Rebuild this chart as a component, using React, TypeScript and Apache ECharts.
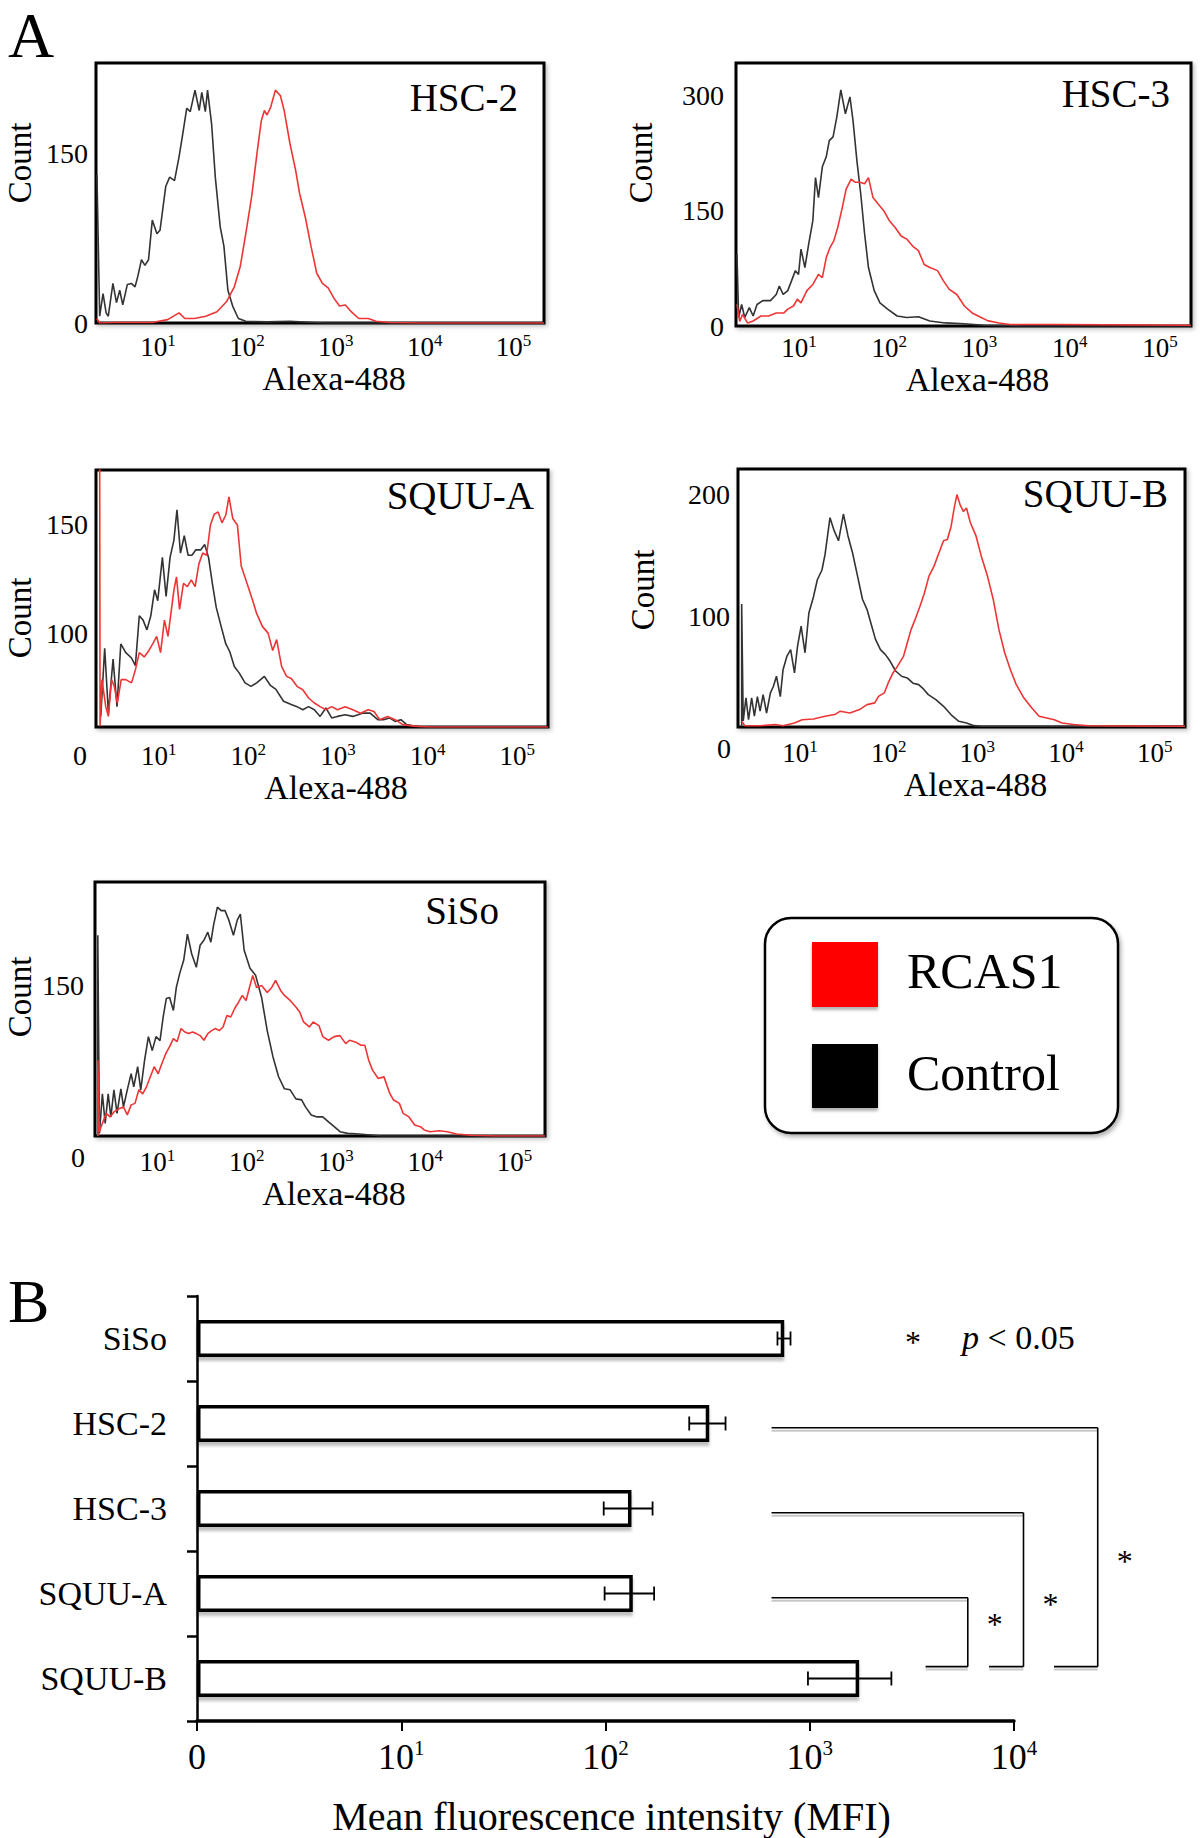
import React, { useEffect, useRef } from 'react';
import * as echarts from 'echarts';

const FONT = '"Liberation Serif", "Times New Roman", Times, serif';
const CONTROL_COLOR = '#333333';
const RCAS_COLOR = '#ee3535';

// ---------- Panel A data: flow cytometry histograms [Alexa-488 intensity, count] ----------
const hsc2Control: number[][] = [[2.05,131],[2.2,6],[2.4,26],[2.6,9],[2.75,6],[3.1,35],[3.4,18],[3.7,29],[4.0,16],[4.5,34],[5.0,35],[5.5,32],[5.9,41],[6.5,56],[7.1,51],[7.8,56],[8.6,91],[9.7,79],[10.5,82],[12.2,121],[13.5,129],[15.3,126],[17.2,147],[19,168],[21,190],[23,187],[26,206],[29,188],[31,204],[34,187],[36,206],[40,176],[44,129],[50,85],[55,68],[61,29],[69,15],[80,4],[97,1.5],[168,1],[304,1.5],[740,0],[220000,0]];
const hsc2Rcas1: number[][] = [[2.04,4],[2.2,0],[3.2,0.5],[8.6,0.5],[12.8,3],[17.2,9],[20,4],[25.6,4],[34.4,6],[46,10],[59,19],[72,32],[84,50],[97,79],[113,112],[131,153],[145,179],[157,188],[168,184],[185,191],[209,206],[238,201],[262,188],[304,159],[353,135],[390,115],[452,94],[525,68],[610,44],[706,35],[819,31],[950,22],[1100,15],[1280,16],[1490,10],[1810,4],[2320,4],[2830,1.5],[4000,0.5],[8830,0],[220000,0]];

const hsc3Control: number[][] = [[2.05,93],[2.14,11],[2.31,28],[2.5,11],[2.81,24],[3.1,13],[3.42,28],[3.96,33],[4.82,33],[5.58,41],[6.04,52],[6.66,41],[7.49,46],[8.26,59],[9.1,72],[9.86,67],[10.5,100],[11.6,76],[12.8,107],[14.2,137],[15.2,193],[16.4,167],[18.1,207],[20,220],[21.6,241],[23.8,246],[26.2,272],[29,307],[32.6,276],[36.6,298],[39.6,267],[43.7,215],[48.2,172],[53.2,120],[58.7,76],[68,46],[78.7,30],[95.7,22],[122,13],[156,11],[210,12],[281,6.5],[416,4],[679,3],[1110,1],[2950,0],[220000,0]];
const hsc3Rcas1: number[][] = [[2.05,28],[2.2,6],[2.36,15],[2.68,4],[3.1,6.5],[3.78,13],[4.59,13],[5.58,17],[6.79,17],[7.49,22],[8.67,26],[9.57,35],[10.5,30],[12.2,46],[14.2,54],[16.4,67],[18.1,63],[20,89],[22,102],[24.3,111],[26.8,128],[30.1,154],[33.2,178],[37.8,191],[41.6,187],[47.2,187],[53.2,185],[58.7,193],[65.9,167],[74.8,159],[86.7,150],[100,137],[116,128],[135,117],[156,113],[181,104],[210,98],[243,80],[281,76],[342,72],[396,59],[459,48],[559,41],[679,26],[826,17],[1004,12],[1222,7],[1640,4],[2200,2],[7870,2],[220000,1]];

const squuAControl: number[][] = [[2.26,61.5],[2.5,93],[2.75,63],[3.1,88],[3.43,66],[3.78,95],[4.3,91],[4.98,88.5],[5.5,85],[6.08,108],[6.7,106],[7.4,101.5],[8.17,108],[9.0,120],[9.77,115],[11,135],[12.1,117],[13.4,135],[14.8,143],[16,157],[17.5,137],[19.3,145],[21.3,136],[23.5,136],[26,138.5],[29.5,138.5],[32.6,141],[36,135],[39.7,123],[43.8,112],[49.8,103],[56.1,95],[62,91.5],[69.8,84.6],[79.3,81.5],[92,77],[107,75.4],[124,77],[151,80],[175,76],[203,74],[247,68.5],[301,67],[349,66],[405,64.6],[470,66],[545,64.6],[632,61.5],[733,65.4],[851,60.8],[986,61.5],[1202,62.3],[1466,61.5],[1874,63],[2284,63],[2780,60],[3225,60],[3741,60.8],[4341,59.2],[5038,60],[5839,57.7],[7117,57],[8674,56.6],[220000,56.6]];
const squuARcas1: number[][] = [[2.2,176],[2.22,57],[2.33,78.5],[2.57,66],[2.75,61.5],[2.98,78.5],[3.2,75.4],[3.46,67.7],[3.82,78.5],[4.3,78.5],[4.98,77],[5.5,83],[6.08,91],[6.9,89],[7.78,92],[8.58,95],[9.5,98.5],[10.5,91],[11.6,106],[12.7,98.5],[14.8,120],[15.8,126],[17.1,111],[18.9,123],[20.9,121.5],[23.1,124.6],[25.5,121.5],[28.1,132],[31,137],[34.2,136],[37.8,150],[41.7,155],[46,156],[50.8,151],[56.1,154.6],[60.8,163],[67,153],[75.5,150],[83.3,131],[96.6,123],[112,115],[124,109],[144,103],[166,100],[187,92],[207,97],[235,84.6],[267,80],[301,79],[349,75.4],[405,73.8],[470,70],[545,67.7],[632,66],[733,64.6],[851,66],[986,64.6],[1202,66],[1466,64.6],[1784,63],[2174,64.6],[2520,63.8],[2922,60],[3563,61.5],[4341,60],[5289,57.7],[7117,57],[10568,56.6],[220000,56.6]];

const squuBControl: number[][] = [[2.2,10],[2.2,110],[2.29,14],[2.46,33],[2.63,15],[2.85,33],[3.06,18],[3.31,34],[3.55,22],[3.84,35.6],[4.2,20.5],[4.64,37],[5.02,42.5],[5.43,50.7],[6.0,34],[6.44,56],[7.11,67],[7.85,72.6],[8.67,53.4],[9.38,75.3],[10.3,91.8],[11.4,70],[12.6,102.7],[14.2,116],[15.7,130],[17.7,138],[19.2,151],[21.8,181],[24.1,171],[27.2,162],[30.9,184],[34.8,166],[39.2,152],[44.6,133],[50.7,114],[57.1,105.5],[64.4,92],[71.1,81],[80.8,72.6],[92,68.5],[104,63],[120,55],[140,50.7],[162,49.3],[188,45],[218,43.8],[241,41],[280,35.6],[341,31.5],[416,26],[507,19],[619,13.7],[755,12.3],[920,10.1],[1122,9.6],[220000,9.6]];
const squuBRcas1: number[][] = [[2.2,13.7],[2.39,10],[3.55,10],[5.27,11],[6.44,10],[8.67,12.3],[10.6,15],[14.2,15.6],[19.2,17.8],[24.6,19.2],[28.5,22],[36.5,20.5],[46.9,23.3],[57.1,27.4],[69.7,28.8],[76.9,34.2],[89.3,37],[98.6,45],[112,53.4],[126,59],[147,67],[162,78],[179,89],[198,97],[225,108],[253,119],[285,133],[324,141],[369,152],[416,162],[459,163],[507,174],[549,189],[589,200],[637,192],[697,186],[755,189],[833,177],[967,166],[1122,148],[1302,133],[1511,114],[1753,89],[2036,70],[2363,56],[2742,44],[3343,33],[4077,25],[4973,17.8],[6067,16.4],[7400,15],[9024,12.3],[12140,11],[18060,10],[220000,9.6]];

const sisoControl: number[][] = [[2.15,0],[2.15,200],[2.24,2.6],[2.42,42],[2.6,12.6],[2.81,42],[3.01,19],[3.26,46],[3.53,22.5],[3.9,47],[4.17,29],[4.6,46],[5.08,62],[5.44,49],[6.01,69],[6.51,46],[7.19,75.5],[7.93,99],[8.75,85],[9.66,99],[10.7,95],[11.6,118.5],[12.6,137],[13.7,138],[15.1,125],[16.3,148],[17.8,162],[19.7,175],[21.7,201],[24.2,181.5],[27.3,168],[30.1,190],[33.2,195],[36.7,203],[39.7,193],[42.6,210],[47,228],[51.8,224.5],[57.2,224.5],[63.2,215],[71.1,200],[78.5,215],[85,221],[93.8,185],[109,167],[126,160],[147,138],[170,105],[197,79],[228,59],[265,47],[307,46],[356,37],[413,36],[456,29],[529,21],[614,19],[712,19],[826,14],[957,9.3],[1111,4.3],[1353,2.6],[1820,2],[2447,1],[3290,0],[220000,0]];
const sisoRcas1: number[][] = [[2.15,0],[2.15,75.5],[2.24,4.3],[2.42,12.6],[2.67,22.5],[2.95,19],[3.26,24],[3.78,27.5],[4.17,29],[4.6,21],[5.08,31],[5.61,32.5],[6.2,46],[6.84,42],[7.55,49],[8.34,59],[9.2,69],[10.2,62],[11.2,72],[12.4,82],[13.7,89],[15.1,97],[16.6,94],[18.4,107],[20.3,103.6],[22.4,102],[24.7,103.6],[27.3,102],[30.1,100],[33.2,95.4],[36.7,102],[40.5,105],[44.7,107],[49.3,105],[54.4,108.6],[60.1,120],[66.4,118.5],[73.3,127],[80.9,133],[89.3,140],[98.6,135],[109,150],[117,160],[129,148],[147,150],[170,143],[191,148],[211,155],[240,145],[265,140],[307,135],[356,128.5],[393,123.5],[434,113.6],[504,108.6],[556,113.6],[645,110],[712,99],[826,95.4],[957,99],[1111,100],[1288,92],[1422,95.4],[1649,93.7],[1911,90.4],[2110,90.4],[2329,75.5],[2572,65.6],[2980,57.3],[3456,58.9],[4010,42.4],[4428,35.8],[5139,32.5],[5673,22.5],[6582,19],[7627,11],[8842,9.3],[9765,6],[11330,4.3],[14490,5.3],[17660,4.3],[22590,2],[31960,0.7],[63830,0],[220000,0]];

// ---------- Panel B data: mean fluorescence intensity ----------
const cellLines = ['SiSo', 'HSC-2', 'HSC-3', 'SQUU-A', 'SQUU-B'];
const mfiMeans = [750, 322, 134, 136, 1745];
const mfiErrors = [55, 65, 36, 37, 765];
const significantPairs = [['HSC-2', 'SQUU-B'], ['HSC-3', 'SQUU-B'], ['SQUU-A', 'SQUU-B']];

// ---------- layout ----------
const panels = [
  { name: 'HSC-2', control: hsc2Control, rcas: hsc2Rcas1, left: 96, top: 63, width: 448, height: 260, yMin: 0, yMax: 230, yLabels: [0, 150], yMargin: 8, xMargin: 9, nameGap: 29, title: [518, 97], count: [20, 163], zero: null as null | number[] },
  { name: 'HSC-3', control: hsc3Control, rcas: hsc3Rcas1, left: 736, top: 63, width: 455, height: 263, yMin: 0, yMax: 342, yLabels: [0, 150, 300], yMargin: 12, xMargin: 7, nameGap: 25, title: [1170, 93], count: [641, 163], zero: null },
  { name: 'SQUU-A', control: squuAControl, rcas: squuARcas1, left: 96, top: 470, width: 452, height: 257, yMin: 56.6, yMax: 175.4, yLabels: [100, 150], yMargin: 8, xMargin: 14, nameGap: 36, title: [534, 495], count: [20, 618], zero: [80, 755] },
  { name: 'SQUU-B', control: squuBControl, rcas: squuBRcas1, left: 738, top: 469, width: 447, height: 258, yMin: 9, yMax: 221, yLabels: [100, 200], yMargin: 8, xMargin: 11, nameGap: 33, title: [1168, 493], count: [643, 590], zero: [724, 748] },
  { name: 'SiSo', control: sisoControl, rcas: sisoRcas1, left: 95, top: 882, width: 450, height: 254, yMin: 0, yMax: 253, yLabels: [150], yMargin: 11, xMargin: 11, nameGap: 25, title: [499, 910], count: [20, 997], zero: [78, 1157] },
];

const BAR_GRID = { left: 197, top: 1296, width: 817, height: 425 };
const BRACKET_LEFT = 650;
const BRACKET_RIGHT = [25700, 11130, 5940];
const BRACKET_FOOT = [15700, 7550, 3690];
const STAR_DY = [14, 14, -8];

function powLabel(value: number, zeroAtOne: boolean) {
  const l = Math.log10(value);
  const e = Math.round(l);
  if (Math.abs(l - e) > 1e-6) return '';
  if (e === 0) return zeroAtOne ? '{b|0}' : '';
  if (e < 0) return '';
  return '{b|10}{s|' + e + '}';
}

function buildOption(): any {
  const grids: any[] = [];
  const xAxes: any[] = [];
  const yAxes: any[] = [];
  const series: any[] = [];
  const graphic: any[] = [];

  panels.forEach((p, i) => {
    grids.push({
      left: p.left, top: p.top, width: p.width, height: p.height,
      show: true, borderColor: '#000', borderWidth: 3, backgroundColor: '#fff',
      shadowColor: 'rgba(0,0,0,0.25)', shadowBlur: 4, shadowOffsetX: 2, shadowOffsetY: 2,
    });
    xAxes.push({
      type: 'log', logBase: 10, gridIndex: i, min: 2, max: 220000,
      axisLine: { show: false }, axisTick: { show: false }, splitLine: { show: false },
      axisLabel: {
        margin: p.xMargin, color: '#000',
        formatter: (v: number) => powLabel(v, false),
        rich: {
          b: { fontSize: 27, fontFamily: FONT, color: '#000', lineHeight: 30 },
          s: { fontSize: 17, fontFamily: FONT, color: '#000', verticalAlign: 'top', lineHeight: 17 },
        },
      },
      name: 'Alexa-488', nameLocation: 'middle', nameGap: p.nameGap,
      nameTextStyle: { fontSize: 34, fontFamily: FONT, color: '#000', padding: [0, 0, 0, 28] },
    });
    yAxes.push({
      type: 'value', gridIndex: i, min: p.yMin, max: p.yMax,
      axisLine: { show: false }, axisTick: { show: false }, splitLine: { show: false },
      axisLabel: { customValues: p.yLabels, fontSize: 28, fontFamily: FONT, color: '#000', margin: p.yMargin },
    });
    series.push({
      type: 'line', name: 'Control', xAxisIndex: i, yAxisIndex: i, data: p.control,
      symbol: 'none', showSymbol: false, clip: true,
      lineStyle: { color: CONTROL_COLOR, width: 1.6 }, itemStyle: { color: CONTROL_COLOR }, z: 3,
    });
    series.push({
      type: 'line', name: 'RCAS1', xAxisIndex: i, yAxisIndex: i, data: p.rcas,
      symbol: 'none', showSymbol: false, clip: true,
      lineStyle: { color: RCAS_COLOR, width: 1.6 }, itemStyle: { color: RCAS_COLOR }, z: 4,
    });
    graphic.push({
      type: 'text', x: p.title[0], y: p.title[1],
      style: { text: p.name, fontSize: 39, fontFamily: FONT, fill: '#000', align: 'right', verticalAlign: 'middle' },
    });
    graphic.push({
      type: 'text', x: p.count[0], y: p.count[1], rotation: Math.PI / 2,
      style: { text: 'Count', fontSize: 33, fontFamily: FONT, fill: '#000', align: 'center', verticalAlign: 'middle' },
    });
    if (p.zero) {
      graphic.push({
        type: 'text', x: p.zero[0], y: p.zero[1],
        style: { text: '0', fontSize: 28, fontFamily: FONT, fill: '#000', align: 'center', verticalAlign: 'middle' },
      });
    }
  });

  // ----- Panel B -----
  const bi = panels.length;
  grids.push({ ...BAR_GRID, show: false });
  xAxes.push({
    type: 'log', logBase: 10, gridIndex: bi, min: 1, max: 10000,
    axisLine: { show: true, lineStyle: { color: '#000', width: 3.5 } },
    axisTick: { show: true, inside: false, length: 10, lineStyle: { color: '#000', width: 2 } },
    splitLine: { show: false },
    axisLabel: {
      margin: 16,
      formatter: (v: number) => powLabel(v, true),
      rich: {
        b: { fontSize: 36, fontFamily: FONT, color: '#000', lineHeight: 40 },
        s: { fontSize: 21, fontFamily: FONT, color: '#000', verticalAlign: 'top', lineHeight: 22 },
      },
    },
    name: 'Mean fluorescence intensity (MFI)', nameLocation: 'middle', nameGap: 75,
    nameTextStyle: { fontSize: 40, fontFamily: FONT, color: '#000', padding: [0, 0, 0, 12] },
  });
  yAxes.push({
    type: 'category', gridIndex: bi, data: cellLines, inverse: true,
    axisLine: { show: true, lineStyle: { color: '#000', width: 2.5 } },
    axisTick: { show: true, inside: false, length: 10, lineStyle: { color: '#000', width: 2.5 } },
    splitLine: { show: false },
    axisLabel: { fontSize: 34, fontFamily: FONT, color: '#000', margin: 30 },
  });
  series.push({
    type: 'bar', name: 'MFI', xAxisIndex: bi, yAxisIndex: bi, data: mfiMeans, barWidth: 37,
    itemStyle: {
      color: '#fff', borderColor: '#000', borderWidth: 3.5,
      shadowColor: 'rgba(0,0,0,0.25)', shadowBlur: 3, shadowOffsetY: 4,
    },
    z: 2,
  });
  series.push({
    type: 'custom', name: 'SD', xAxisIndex: bi, yAxisIndex: bi,
    data: cellLines.map((_, k) => [mfiMeans[k] - mfiErrors[k], mfiMeans[k] + mfiErrors[k], k]),
    encode: { x: [0, 1], y: 2 },
    renderItem: (params: any, api: any) => {
      const lo = api.coord([api.value(0), api.value(2)]);
      const hi = api.coord([api.value(1), api.value(2)]);
      const h = 7;
      const st = { stroke: '#000', lineWidth: 1.8 };
      return {
        type: 'group', children: [
          { type: 'line', shape: { x1: lo[0], y1: lo[1], x2: hi[0], y2: hi[1] }, style: st },
          { type: 'line', shape: { x1: lo[0], y1: lo[1] - h, x2: lo[0], y2: lo[1] + h }, style: st },
          { type: 'line', shape: { x1: hi[0], y1: hi[1] - h, x2: hi[0], y2: hi[1] + h }, style: st },
        ],
      };
    },
    z: 5,
  });
  series.push({
    type: 'custom', name: 'significance', xAxisIndex: bi, yAxisIndex: bi, clip: false,
    data: significantPairs.map((pr, k) => [BRACKET_LEFT, cellLines.indexOf(pr[0]), cellLines.indexOf(pr[1]), k]),
    encode: { x: 0, y: 1 },
    renderItem: (params: any, api: any) => {
      const from = api.value(1);
      const to = api.value(2);
      const level = api.value(3);
      const band = api.coord([BRACKET_LEFT, 1])[1] - api.coord([BRACKET_LEFT, 0])[1];
      const yTop = api.coord([BRACKET_LEFT, from])[1] + 0.05 * band;
      const yBot = api.coord([BRACKET_LEFT, to])[1] - 0.14 * band;
      const xL = api.coord([BRACKET_LEFT, from])[0];
      const xR = api.coord([BRACKET_RIGHT[level], from])[0];
      const xB = api.coord([BRACKET_FOOT[level], from])[0];
      const st = { stroke: '#000', lineWidth: 1.6 };
      const sh = { stroke: '#c8c8c8', lineWidth: 2 };
      return {
        type: 'group', children: [
          { type: 'line', shape: { x1: xL, y1: yTop + 3, x2: xR, y2: yTop + 3 }, style: sh },
          { type: 'line', shape: { x1: xB, y1: yBot + 3, x2: xR, y2: yBot + 3 }, style: sh },
          { type: 'line', shape: { x1: xL, y1: yTop, x2: xR, y2: yTop }, style: st },
          { type: 'line', shape: { x1: xR, y1: yTop, x2: xR, y2: yBot }, style: st },
          { type: 'line', shape: { x1: xB, y1: yBot, x2: xR, y2: yBot }, style: st },
          {
            type: 'text', x: xR + 27, y: (yTop + yBot) / 2 + STAR_DY[level],
            style: { text: '*', fontSize: 32, fontFamily: FONT, fill: '#000', align: 'center', verticalAlign: 'middle' },
          },
        ],
      };
    },
    z: 5,
  });

  // ----- texts & legend -----
  graphic.push({ type: 'text', x: 8, y: 35, style: { text: 'A', fontSize: 64, fontFamily: FONT, fill: '#000', align: 'left', verticalAlign: 'middle' } });
  graphic.push({ type: 'text', x: 8, y: 1301, style: { text: 'B', fontSize: 62, fontFamily: FONT, fill: '#000', align: 'left', verticalAlign: 'middle' } });
  graphic.push({ type: 'text', x: 913, y: 1342, style: { text: '*', fontSize: 32, fontFamily: FONT, fill: '#000', align: 'center', verticalAlign: 'middle' } });
  graphic.push({
    type: 'text', x: 962, y: 1337,
    style: {
      text: '{i|p} < 0.05', fontSize: 34, fontFamily: FONT, fill: '#000', align: 'left', verticalAlign: 'middle',
      rich: { i: { fontStyle: 'italic', fontSize: 34, fontFamily: FONT, fill: '#000' } },
    },
  });
  graphic.push({
    type: 'rect', shape: { x: 765, y: 918, width: 353, height: 215, r: 26 },
    style: { fill: '#fff', stroke: '#000', lineWidth: 2.5, shadowColor: 'rgba(0,0,0,0.3)', shadowBlur: 4, shadowOffsetX: 2, shadowOffsetY: 3 },
  });
  graphic.push({
    type: 'rect', shape: { x: 812, y: 942, width: 66, height: 65 },
    style: { fill: '#ff0000', shadowColor: 'rgba(0,0,0,0.3)', shadowBlur: 3, shadowOffsetY: 3 },
  });
  graphic.push({
    type: 'rect', shape: { x: 812, y: 1044, width: 66, height: 64 },
    style: { fill: '#000', shadowColor: 'rgba(0,0,0,0.3)', shadowBlur: 3, shadowOffsetY: 3 },
  });
  graphic.push({ type: 'text', x: 907, y: 971, style: { text: 'RCAS1', fontSize: 50, fontFamily: FONT, fill: '#000', align: 'left', verticalAlign: 'middle' } });
  graphic.push({ type: 'text', x: 907, y: 1073, style: { text: 'Control', fontSize: 50, fontFamily: FONT, fill: '#000', align: 'left', verticalAlign: 'middle' } });

  return {
    animation: false,
    backgroundColor: '#fff',
    textStyle: { fontFamily: FONT, color: '#000' },
    grid: grids,
    xAxis: xAxes,
    yAxis: yAxes,
    series,
    graphic,
  };
}

export default function App() {
  const ref = useRef<HTMLDivElement>(null);
  useEffect(() => {
    document.body.style.margin = '0';
    const chart = echarts.init(ref.current as HTMLDivElement, null, { renderer: 'svg' });
    chart.setOption(buildOption());
    return () => chart.dispose();
  }, []);
  return <div ref={ref} style={{ width: 1200, height: 1838 }} />;
}
